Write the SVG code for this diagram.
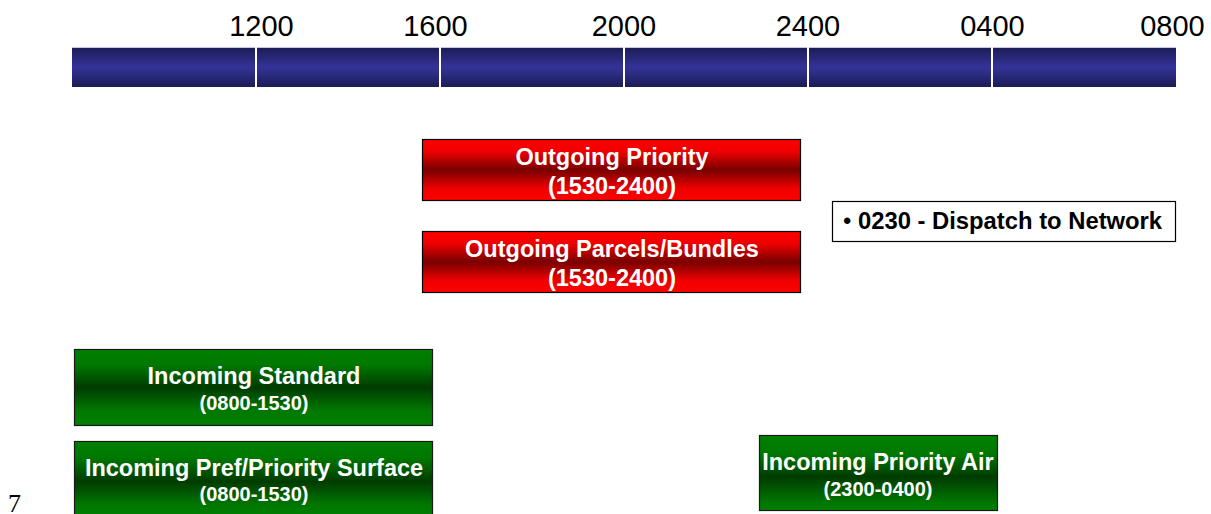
<svg xmlns="http://www.w3.org/2000/svg" width="1211" height="514" viewBox="0 0 1211 514">
  <defs>
    <linearGradient id="gBlue" x1="0" y1="0" x2="0" y2="1">
      <stop offset="0" stop-color="#1c1c55"/>
      <stop offset="0.5" stop-color="#333399"/>
      <stop offset="1" stop-color="#1c1c55"/>
    </linearGradient>
    <linearGradient id="gRed" x1="0" y1="0" x2="0" y2="1">
      <stop offset="0" stop-color="#ff0000"/>
      <stop offset="0.2" stop-color="#ee0000"/>
      <stop offset="0.5" stop-color="#780000"/>
      <stop offset="0.8" stop-color="#ee0000"/>
      <stop offset="1" stop-color="#ff0000"/>
    </linearGradient>
    <linearGradient id="gGreen" x1="0" y1="0" x2="0" y2="1">
      <stop offset="0" stop-color="#008000"/>
      <stop offset="0.2" stop-color="#007800"/>
      <stop offset="0.5" stop-color="#003c00"/>
      <stop offset="0.8" stop-color="#007800"/>
      <stop offset="1" stop-color="#008000"/>
    </linearGradient>
    <linearGradient id="gGreen2" x1="0" y1="0" x2="0" y2="1">
      <stop offset="0" stop-color="#008000"/>
      <stop offset="0.25" stop-color="#007800"/>
      <stop offset="0.55" stop-color="#003c00"/>
      <stop offset="0.9" stop-color="#007800"/>
      <stop offset="1" stop-color="#008000"/>
    </linearGradient>
  </defs>
  <style>
    .tick { font-family: "Liberation Sans", Arial, sans-serif; font-size: 29px; fill: #000; text-anchor: middle; }
    .div { stroke: #ffffff; stroke-width: 2; }
    .red { fill: url(#gRed); stroke: #000; stroke-width: 1.2; }
    .green { fill: url(#gGreen); stroke: #1a1a1a; stroke-width: 1.2; }
    .t1 { font-family: "Liberation Sans", Arial, sans-serif; font-weight: bold; font-size: 23.5px; fill: #fff; text-anchor: middle; }
    .t2 { font-family: "Liberation Sans", Arial, sans-serif; font-weight: bold; font-size: 20px; fill: #fff; text-anchor: middle; }
    .t2r { font-family: "Liberation Sans", Arial, sans-serif; font-weight: bold; font-size: 23.5px; fill: #fff; text-anchor: middle; }
    .note { font-family: "Liberation Sans", Arial, sans-serif; font-weight: bold; font-size: 23.8px; fill: #000; }
  </style>
  <rect width="1211" height="514" fill="#ffffff"/>

  <g id="timeline">
    <rect x="72" y="47" width="1104" height="40" fill="url(#gBlue)"/>
    <line x1="72" y1="47.5" x2="1176" y2="47.5" stroke="#c8c8dc" stroke-width="1"/>
    <line class="div" x1="256" y1="47" x2="256" y2="87"/>
    <line class="div" x1="440" y1="47" x2="440" y2="87"/>
    <line class="div" x1="624" y1="47" x2="624" y2="87"/>
    <line class="div" x1="808" y1="47" x2="808" y2="87"/>
    <line class="div" x1="992" y1="47" x2="992" y2="87"/>
    <text class="tick" x="261.5" y="36">1200</text>
    <text class="tick" x="435.5" y="36">1600</text>
    <text class="tick" x="624" y="36">2000</text>
    <text class="tick" x="808" y="36">2400</text>
    <text class="tick" x="992.5" y="36">0400</text>
    <text class="tick" x="1172.5" y="36">0800</text>
  </g>

  <g id="outgoing-priority">
    <rect class="red" x="422.5" y="139.5" width="378" height="61"/>
    <text class="t1" x="612" y="164.5">Outgoing Priority</text>
    <text class="t2r" x="612" y="193.5">(1530-2400)</text>
  </g>

  <g id="outgoing-parcels">
    <rect class="red" x="422.5" y="231.5" width="378" height="61"/>
    <text class="t1" x="612" y="256.5">Outgoing Parcels/Bundles</text>
    <text class="t2r" x="612" y="285.5">(1530-2400)</text>
  </g>

  <g id="dispatch-note">
    <rect x="832.5" y="201.5" width="343" height="40" fill="#ffffff" stroke="#000" stroke-width="1.2"/>
    <text class="note" x="843" y="229"><tspan font-weight="normal">•</tspan> 0230 - Dispatch to Network</text>
  </g>

  <g id="incoming-standard">
    <rect class="green" x="74.5" y="349.5" width="358" height="76"/>
    <text class="t1" x="254" y="384">Incoming Standard</text>
    <text class="t2" x="254" y="410">(0800-1530)</text>
  </g>

  <g id="incoming-pref-priority-surface">
    <rect x="74.5" y="441.5" width="358" height="80" fill="url(#gGreen)" stroke="#1a1a1a" stroke-width="1.2"/>
    <text class="t1" x="254" y="476">Incoming Pref/Priority Surface</text>
    <text class="t2" x="254" y="501">(0800-1530)</text>
  </g>

  <g id="incoming-priority-air">
    <rect x="759.5" y="435.5" width="238" height="75" fill="url(#gGreen2)" stroke="#1a1a1a" stroke-width="1.2"/>
    <text class="t1" x="878" y="470">Incoming Priority Air</text>
    <text class="t2" x="878" y="496">(2300-0400)</text>
  </g>

  <g id="page-number">
    <text x="8" y="512" font-family="'Liberation Serif', 'Times New Roman', serif" font-size="26" fill="#000">7</text>
  </g>
</svg>
